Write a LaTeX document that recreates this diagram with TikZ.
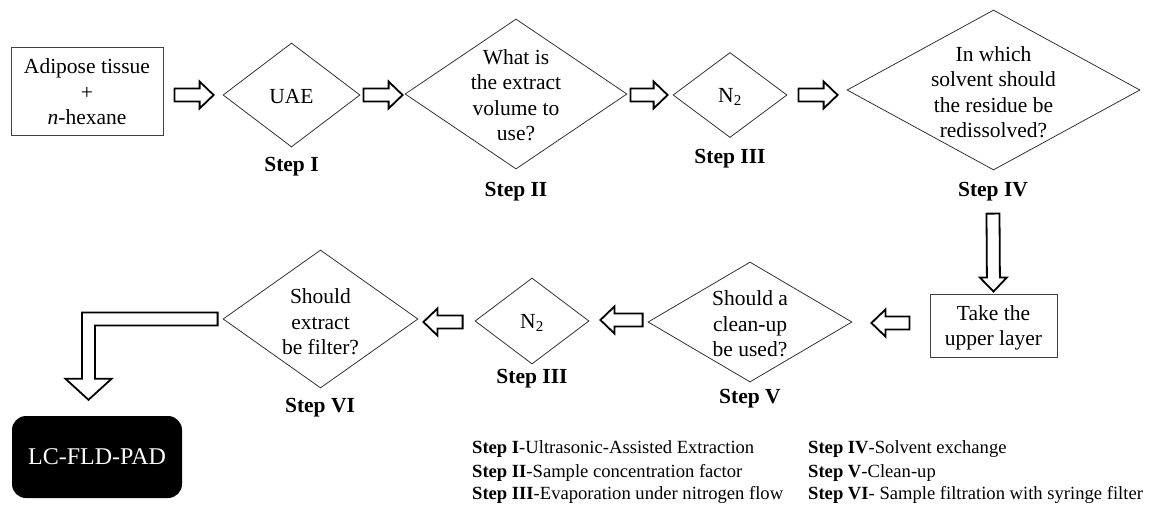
\documentclass[tikz,border=0pt]{standalone}
\usepackage{fontspec}
\setmainfont{Liberation Serif}
\usetikzlibrary{shapes.geometric,calc}
\newcommand\mainsz{\fontsize{21.5}{25.5}\selectfont}
\newcommand\legsz{\fontsize{18.6}{23}\selectfont}
\newcommand\lcsz{\fontsize{24}{28}\selectfont}
\newcommand\blockarrow[2]{%
  \coordinate (ba-s) at #1;
  \coordinate (ba-e) at #2;
  \coordinate (ba-h) at ($(ba-e)!14pt!(ba-s)$);
  \draw[blockarr] ($(ba-s)!6.5pt!90:(ba-e)$) -- ($(ba-h)!6.5pt!90:(ba-e)$)
    -- ($(ba-h)!13.5pt!90:(ba-e)$) -- (ba-e) -- ($(ba-h)!13.5pt!-90:(ba-e)$)
    -- ($(ba-h)!6.5pt!-90:(ba-e)$) -- ($(ba-s)!6.5pt!-90:(ba-e)$) -- cycle;}
\begin{document}
\begin{tikzpicture}[x=1pt,y=-1pt,
  dia/.style={diamond, draw=black!80, line width=0.8pt, inner sep=0pt},
  rbox/.style={draw=black!75, line width=1pt, inner sep=0pt},
  txt/.style={font=\mainsz, align=center, inner sep=0pt},
  steplbl/.style={font=\mainsz\bfseries, inner sep=0pt},
  leg/.style={font=\legsz, anchor=west, inner sep=0pt},
  blockarr/.style={draw=black, line width=1.8pt, fill=white, line join=miter}]
\useasboundingbox (0,0) rectangle (1149,504);

% top row
\node[rbox, minimum width=152pt, minimum height=88pt] (box1) at (87,91) {};
\node[txt] (box1t) at (87,92) {Adipose tissue\\+\\\textit{n}-hexane};

\node[dia, minimum width=137pt, minimum height=104pt] (d1) at (291.5,95) {};
\node[txt] (d1t) at (291.5,97) {UAE};
\node[steplbl] (s1) at (291.5,167) {Step I};

\node[dia, minimum width=222pt, minimum height=150pt] (d2) at (516,94) {};
\node[txt] (d2t) at (516,95) {What is\\the extract\\volume to\\use?};
\node[steplbl] (s2) at (516,192) {Step II};

\node[dia, minimum width=114pt, minimum height=85pt] (d3) at (730,95) {};
\node[txt] (d3t) at (730,97) {N\textsubscript{2}};
\node[steplbl] (s3) at (730,159) {Step III};

\node[dia, minimum width=293pt, minimum height=160pt] (d4) at (993.5,90) {};
\node[txt] (d4t) at (993.5,92) {In which\\solvent should\\the residue be\\redissolved?};
\node[steplbl] (s4) at (993,192) {Step IV};

% bottom row
\node[rbox, minimum width=127pt, minimum height=63pt] (box2) at (993.5,325.5) {};
\node[txt] (box2t) at (993.5,328) {Take the\\upper layer};

\node[dia, minimum width=204pt, minimum height=120pt] (d5) at (750,322) {};
\node[txt] (d5t) at (750,324) {Should a\\clean-up\\be used?};
\node[steplbl] (s5) at (750,399) {Step V};

\node[dia, minimum width=114pt, minimum height=86pt] (d3b) at (532,321) {};
\node[txt] (d3bt) at (532,323) {N\textsubscript{2}};
\node[steplbl] (s3b) at (532,379) {Step III};

\node[dia, minimum width=195pt, minimum height=138pt] (d6) at (320.5,319) {};
\node[txt] (d6t) at (320.5,322) {Should\\extract\\be filter?};
\node[steplbl] (s6) at (320,408) {Step VI};

\node[fill=black, rounded corners=14pt, minimum width=170pt, minimum height=82pt,
  text=white, font=\lcsz, inner sep=0pt] (lc) at (97,457) {LC-FLD-PAD};

% arrows
\blockarrow{($(box1.east)+(11,4)$)}{($(d1.west)+(-9,0)$)}
\blockarrow{($(d1.east)+(3,0)$)}{($(d2.west)+(-2,1)$)}
\blockarrow{($(d2.east)+(3,1)$)}{($(d3.west)+(-5,0)$)}
\blockarrow{($(d3.east)+(11,0)$)}{($(d4.west)+(-9,5)$)}
\blockarrow{($(s4.south)+(0,12)$)}{($(box2.north)+(0,-2)$)}
\blockarrow{($(box2.west)+(-20,-2.5)$)}{($(d5.east)+(19,1)$)}
\blockarrow{($(d5.west)+(-5,-2)$)}{($(d3b.east)+(11,-1)$)}
\blockarrow{($(d3b.west)+(-12,1)$)}{($(d6.east)+(5,3)$)}

\coordinate (ls) at ($(d6.west)+(-5,0)$);
\coordinate (le) at ($(lc.north)+(-8.5,-16)$);
\draw[blockarr] let \p1=(ls), \p2=(le) in
  (\x1,\y1+6.5pt) -- (\x2-6.5pt,\y1+6.5pt) -- (\x2-6.5pt,\y2+21pt)
  -- (\x2-23pt,\y2+21pt) -- (\x2,\y2) -- (\x2+23pt,\y2+21pt)
  -- (\x2+6.5pt,\y2+21pt) -- (\x2+6.5pt,\y1-6.5pt) -- (\x1,\y1-6.5pt) -- cycle;

% legend
\node[leg] (l1) at (472,449) {\textbf{Step I}-Ultrasonic-Assisted Extraction};
\node[leg] (l2) at (472,473) {\textbf{Step II}-Sample concentration factor};
\node[leg] (l3) at (472,495) {\textbf{Step III}-Evaporation under nitrogen flow};
\node[leg] (l4) at (808,449) {\textbf{Step IV}-Solvent exchange};
\node[leg] (l5) at (808,473) {\textbf{Step V}-Clean-up};
\node[leg] (l6) at (808,495) {\textbf{Step VI}- Sample filtration with syringe filter};
\end{tikzpicture}
\end{document}
